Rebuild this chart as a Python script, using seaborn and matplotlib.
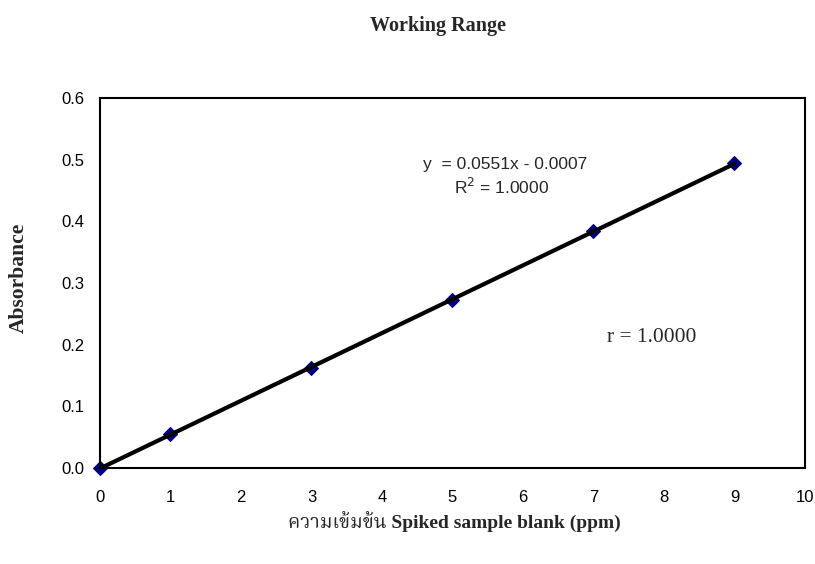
import numpy as np
import pandas as pd
import matplotlib
matplotlib.use("Agg")
import matplotlib.pyplot as plt
from matplotlib import font_manager
from matplotlib.ft2font import FT2Font
import seaborn as sns

# Data
conc = [0, 1, 3, 5, 7, 9]
absorbance = [0.0, 0.055, 0.162, 0.273, 0.384, 0.494]
x_ticks = [0, 1, 2, 3, 4, 5, 6, 7, 8, 9, 10]
y_ticks = [0.0, 0.1, 0.2, 0.3, 0.4, 0.5, 0.6]
title = "Working Range"
x_label = "ความเข้มข้น Spiked sample blank (ppm)"
y_label = "Absorbance"
eq_text = "y  = 0.0551x - 0.0007"
r2_text = "R$^2$ = 1.0000"
r_text = "r = 1.0000"

df = pd.DataFrame({"conc": conc, "abs": absorbance})


def find_thai_family():
    fams = []
    for f in font_manager.fontManager.ttflist:
        try:
            cmap = FT2Font(f.fname).get_charmap()
        except Exception:
            continue
        if 0x0E01 in cmap and 0x0E49 in cmap:
            fams.append(f.name)
    for pref in ["Noto Serif Thai", "Noto Sans Thai", "Loma", "Garuda", "Norasi", "Tlwg Typo", "Waree"]:
        if pref in fams:
            return pref
    return fams[0] if fams else "DejaVu Sans"


thai_fam = find_thai_family()

sns.set_style("white")
plt.rcParams["font.family"] = ["Liberation Sans", "DejaVu Sans"]

fig = plt.figure(figsize=(8.15, 5.64), dpi=100)
ax = fig.add_axes([0.1227, 0.1702, 0.8650, 0.6560])

sns.lineplot(data=df, x="conc", y="abs", ax=ax, color="#1a1aa8", linewidth=1.2,
             marker="D", markersize=7, markerfacecolor="#000080",
             markeredgecolor="#000080", zorder=2, clip_on=False)
sns.regplot(data=df, x="conc", y="abs", ax=ax, scatter=False, ci=None,
            truncate=True, color="black", line_kws={"linewidth": 3, "zorder": 3})

ax.set_xlim(0, 10)
ax.set_ylim(0, 0.6)
ax.set_xticks(x_ticks)
ax.set_xticklabels([str(t) for t in x_ticks])
ax.set_yticks(y_ticks)
ax.set_yticklabels([f"{t:.1f}" for t in y_ticks])
ax.tick_params(axis="both", direction="out", length=6, width=1.2, labelsize=12,
               colors="black")
ax.tick_params(axis="y", pad=5)
ax.tick_params(axis="x", pad=10)
for s in ax.spines.values():
    s.set_color("black")
    s.set_linewidth(1.5)
ax.set_xlabel("")
ax.set_ylabel("")

serif_fams = ["Liberation Serif", thai_fam, "DejaVu Serif", "DejaVu Sans"]
fig.text(0.537, 0.954, title, ha="center", va="center", fontsize=14.5,
         family=serif_fams, fontweight="bold")
fig.text(0.557, 0.073, x_label, ha="center", va="center", fontsize=14,
         family=serif_fams, fontweight="bold")
fig.text(0.023, 0.507, y_label, ha="center", va="center", rotation=90, fontsize=15.5,
         family=serif_fams, fontweight="bold")

ax.text(5.75, 0.492, eq_text, fontsize=12.5, ha="center", va="center",
        family=["Liberation Sans", "DejaVu Sans"])
ax.text(5.7, 0.455, r2_text, fontsize=12.5, ha="center", va="center",
        family=["Liberation Sans", "DejaVu Sans"])
ax.text(7.82, 0.211, r_text, fontsize=15.5, ha="center", va="center",
        family=["Liberation Serif", "DejaVu Serif"])

fig.savefig("out.png", dpi=100)
